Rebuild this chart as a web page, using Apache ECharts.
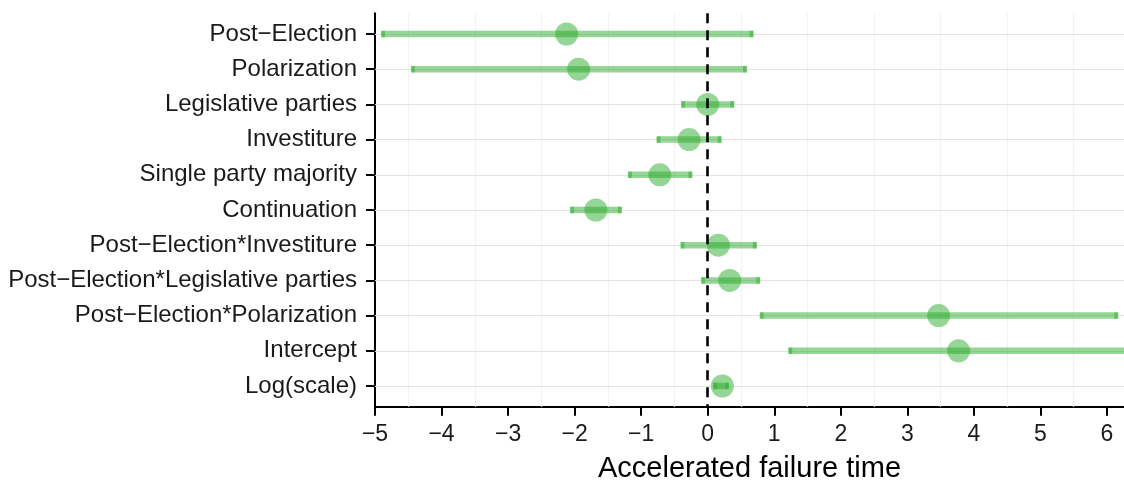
<!DOCTYPE html>
<html>
<head>
<meta charset="utf-8">
<script src="https://cdn.jsdelivr.net/npm/echarts@6/dist/echarts.min.js"></script>
<style>
  html, body { margin: 0; padding: 0; background: #ffffff; }
  #chart { width: 1124px; height: 481px; }
</style>
</head>
<body>
<div id="chart"></div>
<script>
// Model terms, top to bottom
const terms = [
  'Post−Election',
  'Polarization',
  'Legislative parties',
  'Investiture',
  'Single party majority',
  'Continuation',
  'Post−Election*Investiture',
  'Post−Election*Legislative parties',
  'Post−Election*Polarization',
  'Intercept',
  'Log(scale)'
];
// Point estimates and interval bounds (accelerated failure time scale)
const estimate = [-2.12, -1.94, 0.00, -0.28, -0.72, -1.68, 0.16, 0.33, 3.47, 3.77, 0.22];
const lower    = [-4.88, -4.43, -0.37, -0.74, -1.17, -2.04, -0.38, -0.07, 0.81, 1.24, 0.11];
const upper    = [ 0.66,  0.56,  0.37,  0.18, -0.26, -1.32,  0.71,  0.76, 6.14, 6.40, 0.29];

// Axis ticks
const xTicks = [-5, -4, -3, -2, -1, 0, 1, 2, 3, 4, 5, 6];
const xGrid = [-4.5, -3.5, -2.5, -1.5, -0.5, 0.5, 1.5, 2.5, 3.5, 4.5, 5.5];
const rowIndex = terms.map((_, i) => i);

const green = 'rgba(44,172,44,0.5)';
const FONT = '"Liberation Sans", Arial, Helvetica, sans-serif';

const chart = echarts.init(document.getElementById('chart'), null, { renderer: 'canvas' });

const intervals = terms.map((_, i) => [lower[i], upper[i], i]);
const points = terms.map((_, i) => [estimate[i], i]);

chart.setOption({
  animation: false,
  backgroundColor: '#ffffff',
  grid: { left: 375, right: 0, top: 13.3, bottom: 74.3, containLabel: false, outerBoundsMode: 'none' },
  xAxis: {
    type: 'value',
    min: -5,
    max: 6.256,
    interval: 1,
    name: 'Accelerated failure time',
    nameLocation: 'middle',
    nameGap: 48,
    nameTextStyle: { color: '#000', fontSize: 29, fontFamily: FONT },
    axisLine: { show: true, onZero: false, lineStyle: { color: '#000', width: 2 } },
    axisTick: { show: true, length: 9, customValues: xTicks, lineStyle: { color: '#000', width: 2 } },
    axisLabel: {
      customValues: xTicks,
      color: '#1a1a1a', fontSize: 23, fontFamily: FONT, margin: 16,
      formatter: v => String(v).replace('-', '−')
    },
    splitLine: { show: false }
  },
  yAxis: {
    type: 'value',
    inverse: true,
    min: -0.588,
    max: 10.588,
    axisLine: { show: true, onZero: false, lineStyle: { color: '#000', width: 2 } },
    axisTick: { show: true, length: 9, customValues: rowIndex, lineStyle: { color: '#000', width: 2 } },
    axisLabel: {
      customValues: rowIndex,
      color: '#1a1a1a', fontSize: 24, fontFamily: FONT, margin: 18,
      formatter: v => terms[Math.round(v)] || ''
    },
    splitLine: { show: false }
  },
  series: [
    {
      // background grid
      type: 'scatter',
      data: [],
      silent: true,
      z: 1,
      markLine: {
        silent: true,
        z: 1,
        symbol: 'none',
        label: { show: false },
        animation: false,
        data: [
          ...xGrid.map(v => ({ xAxis: v, lineStyle: { color: '#f3f3f3', width: 1.2, type: 'solid' } })),
          ...rowIndex.map(i => ({ yAxis: i, lineStyle: { color: '#e4e4e4', width: 1.2, type: 'solid' } }))
        ]
      }
    },
    {
      // interval bars with end caps
      type: 'custom',
      z: 3,
      data: intervals,
      encode: { x: [0, 1], y: 2 },
      renderItem: (params, api) => {
        const a = api.coord([api.value(0), api.value(2)]);
        const b = api.coord([api.value(1), api.value(2)]);
        const h = 6.5, cw = 4;
        const y0 = a[1] - h / 2;
        return {
          type: 'group',
          children: [
            { type: 'rect', shape: { x: a[0] - 1.5, y: y0, width: b[0] - a[0] + 3, height: h }, style: { fill: green } },
            { type: 'rect', shape: { x: a[0] - cw / 2, y: y0, width: cw, height: h }, style: { fill: green } },
            { type: 'rect', shape: { x: b[0] - cw / 2, y: y0, width: cw, height: h }, style: { fill: green } }
          ]
        };
      }
    },
    {
      // point estimates
      type: 'scatter',
      z: 4,
      data: points,
      symbol: 'circle',
      symbolSize: 23,
      itemStyle: { color: green, borderWidth: 0, opacity: 1 }
    },
    {
      // zero reference line, drawn above the marks
      type: 'scatter',
      data: [],
      silent: true,
      z: 10,
      markLine: {
        silent: true,
        z: 10,
        symbol: 'none',
        label: { show: false },
        animation: false,
        data: [{ xAxis: 0, lineStyle: { color: '#000', width: 2.6, type: [10, 7] } }]
      }
    }
  ]
});
</script>
</body>
</html>
